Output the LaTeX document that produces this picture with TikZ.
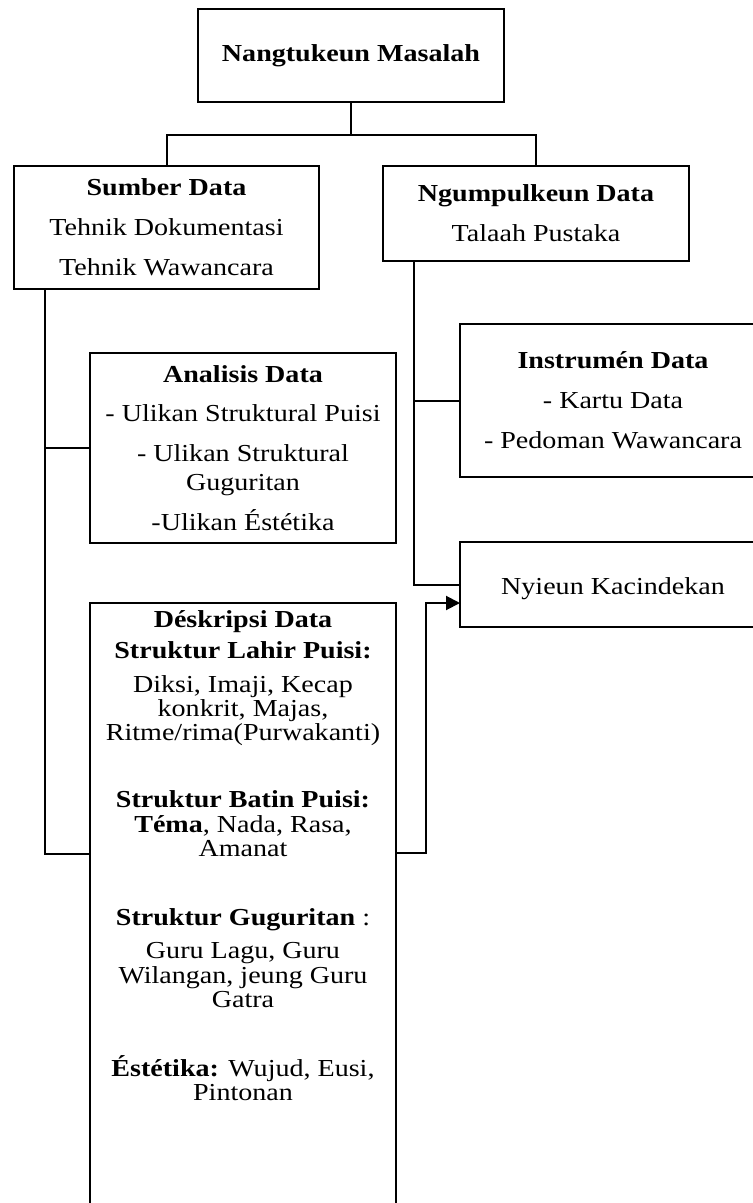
\documentclass[tikz,border=0pt]{standalone}
\usepackage{fontspec}
\setmainfont{Liberation Serif}[FakeStretch=1.15]
\usetikzlibrary{arrows.meta}
\newcommand{\teksfont}{\fontsize{12.2}{12}\selectfont\lineskiplimit=-100pt\relax}
\tikzset{
    teks/.style={align=center, inner sep=0pt, font={\teksfont}},
    box/.style={teks, draw, line width=1pt, minimum width=153pt},
}

\begin{document}
\begin{tikzpicture}[x=0.5pt, y=-0.5pt, line width=1pt]
    \useasboundingbox (0,0) rectangle (753,1203);
    \clip (0,0) rectangle (753,1203);
    \node[box, minimum height=46.5pt] (masalah) at (351,55.5) {\textbf{Nangtukeun Masalah}};
    \node[box, minimum height=61.5pt, minimum width=152.5pt] (sumber) at (166.5,227.5)
        {\textbf{Sumber Data}\\[8pt] Tehnik Dokumentasi\\[8pt] Tehnik Wawancara};
    \node[box, minimum height=47.5pt] (ngumpul) at (536,213.5)
        {\textbf{Ngumpulkeun Data}\\[8pt] Talaah Pustaka};
    \node[box, minimum height=95pt] (analisis) at (243,448)
        {\textbf{Analisis Data}\\[7.5pt] - Ulikan Struktural Puisi\\[8pt] - Ulikan Struktural\\[2.5pt] Guguritan\\[8pt] -Ulikan Éstétika};
    \node[box, minimum height=76.5pt] (instrumen) at (613,400.5)
        {\textbf{Instrumén Data}\\[8pt] - Kartu Data\\[8pt] - Pedoman Wawancara};
    \node[box, minimum height=42.5pt, text height=13pt, text depth=2.6pt] (kacindekan) at (613,584.5) {Nyieun Kacindekan};
    \node[box, minimum height=306pt] (deskripsi) at (243,909) {};
    \node[teks, anchor=north] (deskripsiTeks) at (243,610) {\textbf{Déskripsi Data}\\[3.5pt]
        \textbf{Struktur Lahir Puisi:}\\[5pt]
        Diksi, Imaji, Kecap\\ konkrit, Majas,\\ Ritme/rima(Purwakanti)\\[21.5pt]
        \textbf{Struktur Batin Puisi:}\\[0.5pt]
        \textbf{Téma}, Nada, Rasa,\\ Amanat\\[22.5pt]
        \textbf{Struktur Guguritan} :\\[4.5pt]
        Guru Lagu, Guru\\[0.5pt] Wilangan, jeung Guru\\ Gatra\\[22.5pt]
        \textbf{Éstétika:} Wujud, Eusi,\\ Pintonan};
    % cabang ti masalah
    \coordinate (cabang) at (351,135);
    \draw (masalah.south) -- (cabang);
    \draw (sumber.north) |- (cabang) -| (ngumpul.north);
    % garis kenca
    \coordinate (sumberOut) at (45,289);
    \coordinate (deskripsiIn) at (90,854);
    \draw (sumberOut) |- (deskripsiIn);
    \draw (sumberOut |- analisis.west) -- (analisis.west);
    % garis katuhu
    \coordinate (ngumpulOut) at (414,261);
    \draw (ngumpulOut) |- (kacindekan.west);
    \draw (ngumpulOut |- instrumen.west) -- (instrumen.west);
    \coordinate (deskripsiOut) at (397,853);
    \coordinate (kacindekanIn) at (460,603);
    \draw[-{Triangle[length=7pt,width=7pt]}] (deskripsiOut) -- ++(29,0) |- (kacindekanIn);
\end{tikzpicture}
\end{document}
